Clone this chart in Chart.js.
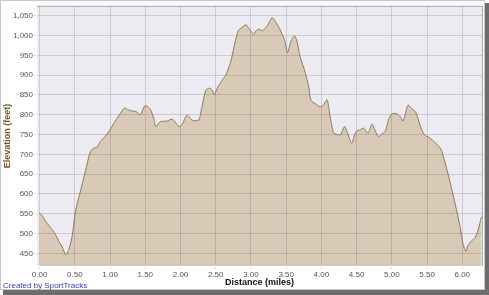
<!DOCTYPE html>
<html>
<head>
<meta charset="utf-8">
<script src="https://cdn.jsdelivr.net/npm/chart.js@4.4.0/dist/chart.umd.min.js"></script>
<style>
  html, body { margin: 0; padding: 0; background: #fff; }
  #wrap { width: 489px; height: 295px; position: relative; }
</style>
</head>
<body>
<div id="wrap"><canvas id="myChart" width="489" height="295"></canvas></div>
<script>
// distance along the route (miles)
const distances = [
  0.00, 0.03, 0.08, 0.15, 0.22, 0.28, 0.32, 0.37, 0.41, 0.46,
  0.51, 0.58, 0.65, 0.72, 0.77, 0.81, 0.86, 0.93, 0.98, 1.04,
  1.10, 1.16, 1.21, 1.26, 1.33, 1.38, 1.43, 1.49, 1.52, 1.57,
  1.62, 1.65, 1.71, 1.81, 1.88, 1.92, 1.98, 2.02, 2.09, 2.14,
  2.18, 2.26, 2.30, 2.36, 2.41, 2.45, 2.48, 2.53, 2.59, 2.64,
  2.71, 2.78, 2.82, 2.87, 2.93, 2.97, 3.04, 3.07, 3.12, 3.16,
  3.23, 3.30, 3.34, 3.41, 3.48, 3.52, 3.57, 3.62, 3.65, 3.70,
  3.77, 3.82, 3.85, 3.91, 3.98, 4.03, 4.08, 4.12, 4.17, 4.22,
  4.27, 4.33, 4.38, 4.43, 4.49, 4.55, 4.60, 4.66, 4.72, 4.77,
  4.81, 4.87, 4.91, 4.96, 5.01, 5.07, 5.12, 5.16, 5.23, 5.28,
  5.34, 5.40, 5.46, 5.54, 5.61, 5.67, 5.71, 5.80, 5.90, 5.97,
  6.01, 6.05, 6.08, 6.13, 6.18, 6.23, 6.27
];

// elevation (feet)
const elevations = [
  550, 547, 532, 516, 499, 478, 466, 447, 457, 491,
  557, 607, 657, 707, 716, 717, 732, 745, 757, 774,
  791, 807, 817, 812, 809, 807, 800, 822, 822, 814,
  791, 770, 782, 784, 789, 782, 770, 774, 799, 791,
  785, 787, 816, 862, 867, 862, 851, 870, 887, 899,
  932, 987, 1012, 1020, 1027, 1018, 1003, 1012, 1016, 1012,
  1024, 1045, 1037, 1016, 987, 957, 987, 999, 987, 945,
  907, 870, 837, 828, 820, 824, 838, 800, 755, 750,
  749, 770, 749, 728, 757, 762, 766, 753, 776, 757,
  745, 753, 759, 791, 803, 802, 795, 784, 824, 816,
  806, 774, 750, 741, 730, 720, 707, 649, 574, 516,
  474, 455, 470, 481, 489, 512, 542
];

const xTicks = [0, 0.5, 1, 1.5, 2, 2.5, 3, 3.5, 4, 4.5, 5, 5.5, 6];
const yTicks = [450, 500, 550, 600, 650, 700, 750, 800, 850, 900, 950, 1000, 1050];

const points = distances.map(function (d, i) {
  return { x: d, y: elevations[i] };
});

// plot background, plot frame, outer frame and credit text
const decor = {
  id: 'decor',
  beforeDraw: function (chart) {
    const ctx = chart.ctx, a = chart.chartArea;
    ctx.save();
    ctx.fillStyle = '#fff';
    ctx.fillRect(0, 0, chart.width, chart.height);
    ctx.fillStyle = '#ecebf1';
    ctx.fillRect(a.left, a.top, a.right - a.left, a.bottom - a.top);
    ctx.restore();
  },
  afterDraw: function (chart) {
    const ctx = chart.ctx, a = chart.chartArea;
    ctx.save();
    ctx.strokeStyle = '#a9a9ad';
    ctx.lineWidth = 1;
    ctx.beginPath();
    ctx.moveTo(a.left, a.top + 0.5);
    ctx.lineTo(a.right + 0.5, a.top + 0.5);
    ctx.lineTo(a.right + 0.5, a.bottom);
    ctx.stroke();
    // outer frame with shadow
    ctx.strokeStyle = '#c8c8c8';
    ctx.strokeRect(0.5, 0.5, 484, 289);
    ctx.fillStyle = '#6d6d6d';
    ctx.fillRect(485, 3, 4, 291);
    ctx.fillRect(3, 290, 486, 5);
    ctx.fillStyle = '#2f3fa8';
    ctx.font = '8px "Liberation Sans", Arial, sans-serif';
    ctx.textBaseline = 'middle';
    ctx.fillText('Created by SportTracks', 3, 286);
    ctx.restore();
  }
};

const config = {
  type: 'line',
  data: {
    datasets: [{
      label: 'Elevation',
      data: points,
      borderColor: '#8e7b5a',
      backgroundColor: '#d8cab7',
      borderWidth: 1,
      fill: 'start',
      tension: 0.25,
      pointRadius: 0,
      pointHoverRadius: 0
    }]
  },
  options: {
    responsive: false,
    animation: false,
    layout: { padding: { top: 3, right: 7, bottom: 0, left: 0 } },
    plugins: {
      legend: { display: false },
      tooltip: { enabled: false }
    },
    scales: {
      x: {
        type: 'linear',
        min: -0.037,
        max: 6.28,
        afterFit: function (s) { s.height = 29; },
        afterBuildTicks: function (s) {
          s.ticks = xTicks.map(function (v) { return { value: v }; });
        },
        border: { display: true, color: '#5e5e5e', width: 2 },
        grid: { color: 'rgba(95,85,95,0.22)', tickLength: 3, z: 1 },
        ticks: {
          padding: 1,
          maxRotation: 0,
          color: '#555',
          font: { family: '"Liberation Sans", Arial, sans-serif', size: 8 },
          callback: function (v) { return Number(v).toFixed(2); }
        },
        title: {
          display: true,
          text: 'Distance (miles)',
          color: '#111',
          font: { family: '"Liberation Sans", Arial, sans-serif', size: 9, weight: 'bold' },
          padding: { top: 0, bottom: 6.6 }
        }
      },
      y: {
        min: 418,
        max: 1075,
        afterFit: function (s) { s.width = 37; },
        afterBuildTicks: function (s) {
          s.ticks = yTicks.map(function (v) { return { value: v }; });
        },
        border: { display: true, color: '#5e5e5e', width: 2 },
        grid: { color: 'rgba(95,85,95,0.22)', tickLength: 3, z: 1 },
        ticks: {
          padding: 1,
          color: '#555',
          font: { family: '"Liberation Sans", Arial, sans-serif', size: 8 },
          callback: function (v) { return Number(v).toLocaleString('en-US'); }
        },
        title: {
          display: true,
          text: 'Elevation (feet)',
          color: '#7a5a22',
          font: { family: '"Liberation Sans", Arial, sans-serif', size: 9, weight: 'bold' },
          padding: { top: 2.6, bottom: 0 }
        }
      }
    }
  },
  plugins: [decor]
};

var myChart = new Chart(document.getElementById('myChart'), config);
</script>
</body>
</html>
